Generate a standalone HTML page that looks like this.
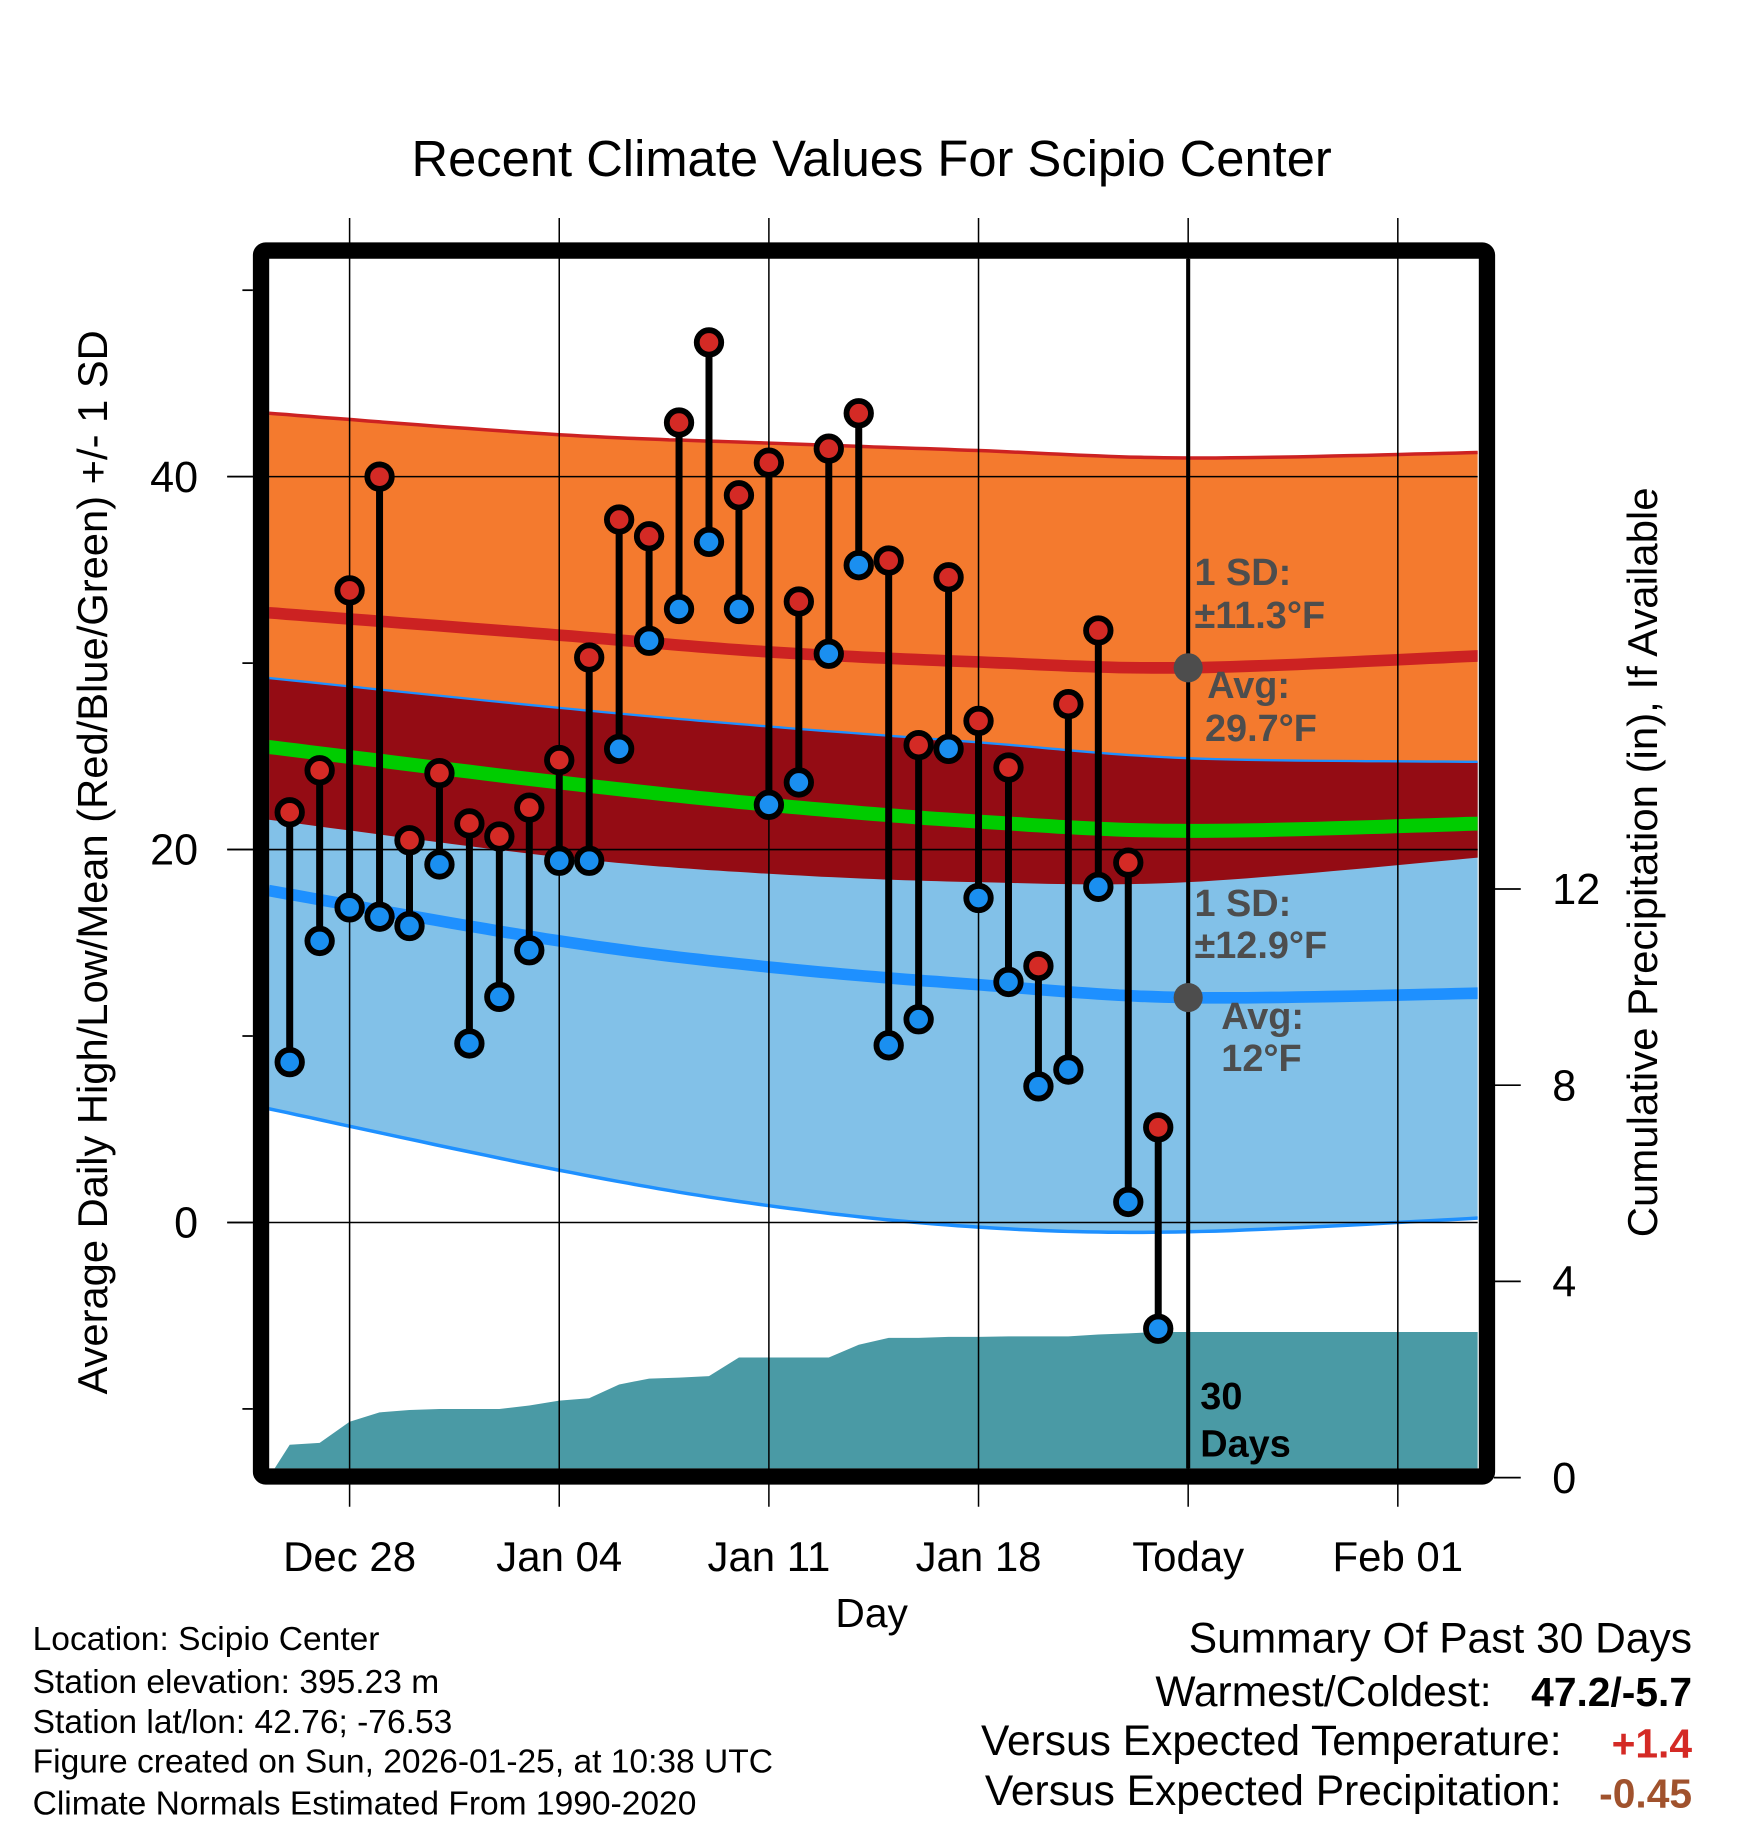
<!DOCTYPE html>
<html><head><meta charset="utf-8"><style>
html,body{margin:0;padding:0;background:#fff;}
svg{display:block;font-family:"Liberation Sans",Arial,sans-serif;}
</style></head><body>
<svg id="chart" width="1748" height="1828" viewBox="0 0 1500 1568.6" xmlns="http://www.w3.org/2000/svg">
<defs><clipPath id="plotclip"><rect x="231" y="222" width="1037" height="1038"/></clipPath></defs>
<text x="748" y="151" font-size="43.5" text-anchor="middle">Recent Climate Values For Scipio Center</text>
<g id="bands" clip-path="url(#plotclip)"></g>
<g id="grid"></g>
<g id="marks"></g>
<rect x="224" y="215" width="1052" height="1052" fill="none" stroke="#000" stroke-width="14" rx="4"/>
<g id="axes"></g>
<text x="748" y="1396" font-size="35" text-anchor="middle">Day</text>
<text transform="translate(92,740) rotate(-90)" font-size="35.8" text-anchor="middle">Average Daily High/Low/Mean (Red/Blue/Green) +/- 1 SD</text>
<text transform="translate(1422,740) rotate(-90)" font-size="36" text-anchor="middle">Cumulative Precipitation (in), If Available</text>
<g font-size="28.8">
<text x="28" y="1416">Location: Scipio Center</text>
<text x="28" y="1453">Station elevation: 395.23 m</text>
<text x="28" y="1487">Station lat/lon: 42.76; -76.53</text>
<text x="28" y="1521">Figure created on Sun, 2026-01-25, at 10:38 UTC</text>
<text x="28" y="1557">Climate Normals Estimated From 1990-2020</text>
</g>
<g font-size="36.5" text-anchor="end">
<text x="1452" y="1418">Summary Of Past 30 Days</text>
<text x="1280" y="1464">Warmest/Coldest:</text>
<text x="1452" y="1464" font-weight="bold" font-size="35">47.2/-5.7</text>
<text x="1340" y="1506">Versus Expected Temperature:</text>
<text x="1452" y="1508" font-weight="bold" font-size="35" fill="#d42a25">+1.4</text>
<text x="1340" y="1549">Versus Expected Precipitation:</text>
<text x="1452" y="1551" font-weight="bold" font-size="35" fill="#a0522d">-0.45</text>
</g>
</svg>
<script>
const days = [-2,-1,0,1,2,3,4,5,6,7,8,9,10,11,12,13,14,15,16,17,18,19,20,21,22,23,24,25,26,27];
const highs = [22.0,24.25,33.9,40.0,20.5,24.1,21.4,20.7,22.25,24.8,30.3,37.7,36.8,42.9,47.2,39.0,40.75,33.3,41.5,43.4,35.5,25.6,34.6,26.9,24.4,13.75,27.8,31.75,19.3,5.1];
const lows = [8.6,15.1,16.9,16.4,15.9,19.2,9.6,12.1,14.6,19.4,19.4,25.4,31.2,32.9,36.5,32.9,22.4,23.6,30.5,35.25,9.5,10.9,25.4,17.4,12.9,7.3,8.2,18.0,1.1,-5.7];
const precip = [0.67,0.71,1.14,1.33,1.38,1.40,1.40,1.40,1.47,1.57,1.62,1.90,2.02,2.04,2.07,2.45,2.45,2.45,2.45,2.71,2.85,2.85,2.87,2.87,2.88,2.88,2.88,2.92,2.94,2.97];
const normDays = [-2.7,7,14,21,28,37.9];
const highTop = [43.4,42.25,41.8,41.4,41.0,41.3];
const avgHigh = [32.7,31.5,30.6,30.06,29.75,30.4];
const highBottom = [21.6,19.6,18.7,18.25,18.25,19.6];
const lowTop = [29.2,27.6,26.6,25.75,24.9,24.7];
const avgLow = [17.8,15.1,13.7,12.75,12.06,12.3];
const lowBottom = [6.1,2.8,0.9,-0.25,-0.5,0.25];
const meanT = [25.5,23.6,22.4,21.5,21.0,21.4];
const xTickDays = [0,7,14,21,28,35];
const xTickLabels = ["Dec 28","Jan 04","Jan 11","Jan 18","Today","Feb 01"];
const yTicks = [0,20,40];
const yMinor = [-10,10,30,50];
const y2Ticks = [0,4,8,12];

const NS="http://www.w3.org/2000/svg";
const X = d => 300 + d*25.7;
const Y = t => 1049 - t*16;
const Y2 = p => 1268 - p*42.1;
function mk(tag, attrs, parent){const e=document.createElementNS(NS,tag);for(const k in attrs)e.setAttribute(k,attrs[k]);parent.appendChild(e);return e;}
function smoothPts(ds, vs){
  const pts=[];
  for(let i=0;i<ds.length-1;i++){
    const p0=i>0?i-1:i, p3=i+2<ds.length?i+2:i+1;
    for(let s=0;s<20;s++){
      const t=s/20,t2=t*t,t3=t2*t;
      const f=(a,b,c,d)=>0.5*((2*b)+(-a+c)*t+(2*a-5*b+4*c-d)*t2+(-a+3*b-3*c+d)*t3);
      pts.push([X(f(ds[p0],ds[i],ds[i+1],ds[p3])), Y(f(vs[p0],vs[i],vs[i+1],vs[p3]))]);
    }
  }
  pts.push([X(ds[ds.length-1]),Y(vs[vs.length-1])]);
  return pts;
}
const ps = p => p.map(q=>q[0].toFixed(1)+","+q[1].toFixed(1)).join(" ");
function band(top,bot,fill,name,g){
  const a=smoothPts(normDays,top), b=smoothPts(normDays,bot).reverse();
  const e=mk('polygon',{points:ps(a.concat(b)),fill:fill},g);
  
  
}
function line(vals,stroke,w,name,g){
  const e=mk('polyline',{points:ps(smoothPts(normDays,vals)),fill:'none',stroke:stroke,'stroke-width':w},g);
  
  
}
const bands=document.getElementById('bands');
band(highTop,highBottom,'#f47a2e','high-sd-band',bands);
band(lowTop,lowBottom,'#82c1e8','low-sd-band',bands);
band(lowTop,highBottom,'#940c14','overlap-band',bands);
line(highTop,'#cc2222',3,'high-plus-sd-line',bands);
line(lowTop,'#1e90ff',2,'low-plus-sd-line',bands);
line(lowBottom,'#1e90ff',3,'low-minus-sd-line',bands);
line(avgHigh,'#cc2222',10,'avg-high-line',bands);
line(avgLow,'#1e90ff',10,'avg-low-line',bands);
line(meanT,'#00cc00',12,'mean-line',bands);
const pp=[[X(-2.7),Y2(0)]];
days.forEach((d,i)=>pp.push([X(d),Y2(precip[i])]));
pp.push([X(37.9),Y2(precip[precip.length-1])],[X(37.9),1270],[X(-2.7),1270]);
const pa=mk('polygon',{points:ps(pp),fill:'#4a9aa5'},bands);



const grid=document.getElementById('grid');
xTickDays.forEach(d=>{
  const e=mk('line',{x1:X(d),x2:X(d),y1:187,y2:1293,stroke:'#000','stroke-width':1.3},grid);
  
  
});
yTicks.forEach(t=>{
  const e=mk('line',{x1:195,x2:1268,y1:Y(t),y2:Y(t),stroke:'#000','stroke-width':1.3},grid);
  
  
});

const marks=document.getElementById('marks');
const tl=mk('line',{x1:X(28),x2:X(28),y1:222,y2:1260,stroke:'#000','stroke-width':3.5},marks);


days.forEach((d,i)=>{
  const s=mk('line',{x1:X(d),x2:X(d),y1:Y(highs[i]),y2:Y(lows[i]),stroke:'#000','stroke-width':6},marks);
  
  
});
days.forEach((d,i)=>{
  const h=mk('circle',{cx:X(d),cy:Y(highs[i]),r:10.5,fill:'#d42a25',stroke:'#000','stroke-width':5},marks);
  
  
  const l=mk('circle',{cx:X(d),cy:Y(lows[i]),r:10.5,fill:'#1a8ff0',stroke:'#000','stroke-width':5},marks);
  
  
});
const gd1=mk('circle',{cx:X(28),cy:Y(avgHigh[4]),r:12.5,fill:'#4d4d4d'},marks);


const gd2=mk('circle',{cx:X(28),cy:Y(avgLow[4]),r:12.5,fill:'#4d4d4d'},marks);


const ann=[["1 SD:",1025,502,'#4d4d4d','sd-high-label'],["±11.3°F",1025,539,'#4d4d4d','sd-high-value'],["Avg:",1036,599,'#4d4d4d','avg-high-label'],["29.7°F",1034,636,'#4d4d4d','avg-high-value'],
["1 SD:",1025,786,'#4d4d4d','sd-low-label'],["±12.9°F",1025,822,'#4d4d4d','sd-low-value'],["Avg:",1048,883,'#4d4d4d','avg-low-label'],["12°F",1048,919,'#4d4d4d','avg-low-value'],
["30",1030,1209,'#000','days-count'],["Days",1030,1250,'#000','days-label']];
ann.forEach(a=>{
  const t=mk('text',{x:a[1],y:a[2],fill:a[3],'font-size':32.5,'font-weight':'bold'},marks);
  t.textContent=a[0];
  
  
});

const axes=document.getElementById('axes');
xTickDays.forEach((d,i)=>{
  const t=mk('text',{x:X(d),y:1348,'font-size':36,'text-anchor':'middle'},axes);
  t.textContent=xTickLabels[i];
  
  
});
yTicks.forEach(v=>{
  const l=mk('line',{x1:195,x2:217,y1:Y(v),y2:Y(v),stroke:'#000','stroke-width':1.5},axes);
  
  
  const t=mk('text',{x:170,y:Y(v)+13,'font-size':37,'text-anchor':'end'},axes);
  t.textContent=v;
  
  
});
yMinor.forEach(v=>{
  const l=mk('line',{x1:208,x2:217,y1:Y(v),y2:Y(v),stroke:'#000','stroke-width':1.5},axes);
  
  
});
y2Ticks.forEach(v=>{
  const l=mk('line',{x1:1282,x2:1305,y1:Y2(v),y2:Y2(v),stroke:'#000','stroke-width':1.5},axes);
  
  
  const t=mk('text',{x:1332,y:Y2(v)+13,'font-size':37},axes);
  t.textContent=v;
  
  
});
</script>
</body></html>
